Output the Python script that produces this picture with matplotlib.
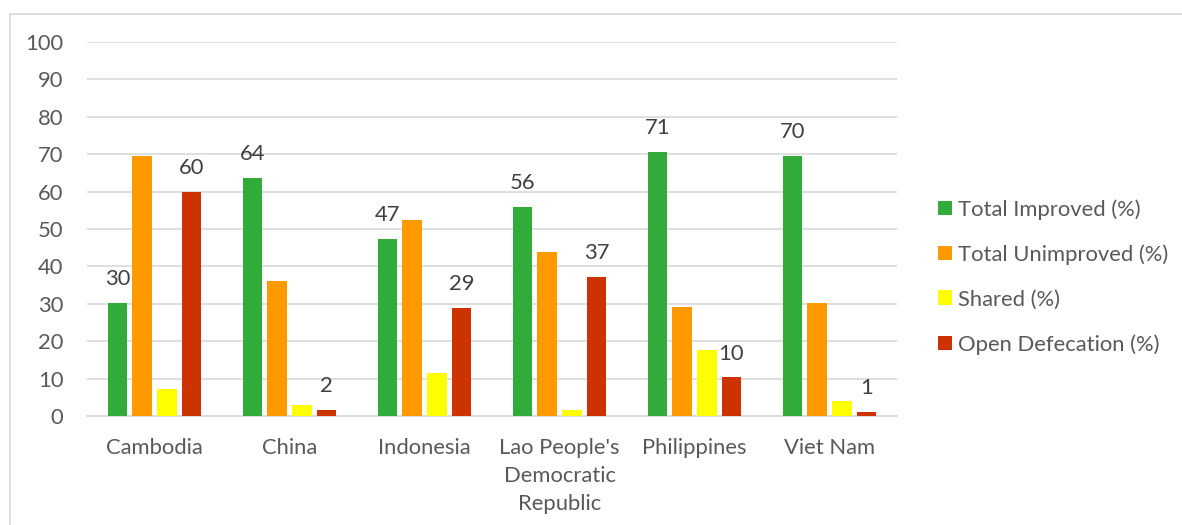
import matplotlib.pyplot as plt
import numpy as np
from matplotlib.lines import Line2D

countries = ["Cambodia", "China", "Indonesia",
             "Lao People's\nDemocratic\nRepublic", "Philippines", "Viet Nam"]
improved = [30.3, 63.6, 47.4, 55.9, 70.7, 69.6]
unimproved = [69.4, 36.2, 52.4, 43.8, 29.1, 30.3]
shared = [7.3, 3.0, 11.4, 1.5, 17.6, 3.9]
open_def = [59.8, 1.6, 28.9, 37.2, 10.3, 1.1]

series = [
    ("Total Improved (%)", improved, "#31AB3A", True),
    ("Total Unimproved (%)", unimproved, "#FF9900", False),
    ("Shared (%)", shared, "#FFFF00", False),
    ("Open Defecation (%)", open_def, "#CC3300", True),
]

plt.rcParams['font.family'] = ['Lato', 'DejaVu Sans']
text_col = "#595959"
fs = 15.8

fig = plt.figure(figsize=(11.82, 5.25), dpi=100)
ax = fig.add_axes([87 / 1182, 1 - 416 / 525, 810 / 1182, 374 / 525])

x = np.arange(len(countries))
pitch = 0.182
width = 0.145
for i, (name, vals, col, labelled) in enumerate(series):
    pos = x + (i - 1.5) * pitch
    bars = ax.bar(pos, vals, width, color=col, label=name, zorder=3)
    if labelled:
        for b, v in zip(bars, vals):
            ax.text(b.get_x() + b.get_width() / 2, v + 6.4, "%.0f" % v,
                    ha="center", va="center", fontsize=fs, color="#404040")

ax.set_xlim(-0.5, 5.5)
ax.set_ylim(0, 100)
ax.set_yticks(range(0, 101, 10))
ax.set_xticks(x)
ax.set_xticklabels(countries, linespacing=1.5, va="top")
ax.tick_params(axis="both", length=0, labelsize=fs, labelcolor=text_col)
ax.tick_params(axis="x", pad=16)
ax.tick_params(axis="y", pad=17)
ax.grid(axis="y", color="#D9D9D9", linewidth=1.2, zorder=0)
for s in ["top", "right", "left"]:
    ax.spines[s].set_visible(False)
ax.spines["bottom"].set_color("#D9D9D9")
ax.spines["bottom"].set_linewidth(1.2)

leg = ax.legend(loc="center left", bbox_to_anchor=(1.0506, 0.372), frameon=False,
                fontsize=fs, handlelength=0.64, handleheight=0.64,
                handletextpad=0.25, labelspacing=1.12,
                borderpad=0, borderaxespad=0)
for t in leg.get_texts():
    t.set_color(text_col)

# outer chart border
fig.add_artist(Line2D([10 / 1182, 10 / 1182], [0, 1 - 14 / 525],
                      transform=fig.transFigure, color="#D9D9D9", linewidth=1.2))
fig.add_artist(Line2D([10 / 1182, 1], [1 - 14 / 525, 1 - 14 / 525],
                      transform=fig.transFigure, color="#D9D9D9", linewidth=1.2))

fig.savefig("out.png", dpi=100)
